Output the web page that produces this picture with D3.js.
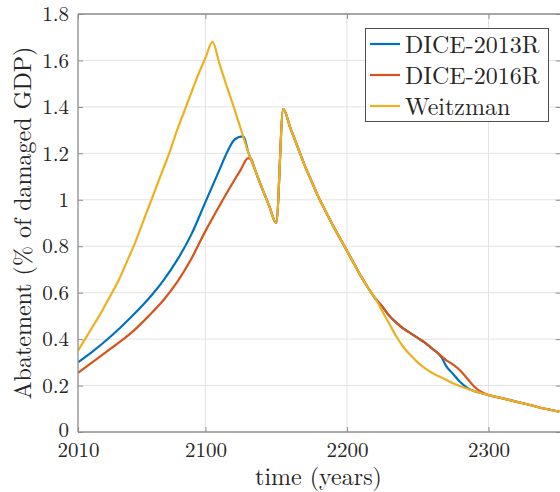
<!DOCTYPE html>
<html>
<head>
<meta charset="utf-8">
<script src="https://cdn.jsdelivr.net/npm/d3@7"></script>
<style>
  html, body { margin: 0; padding: 0; background: #fff; }
  svg { display: block; }
</style>
</head>
<body>
<div id="chart"></div>
<script>
// ---- data ----
const seriesNames = ["DICE-2013R", "DICE-2016R", "Weitzman"];
const seriesColors = ["#0072BD", "#D95319", "#EDB120"];

const yearsWeitzman = [2010,2015,2020,2025,2030,2035,2040,2045,2050,2055,2060,2065,2070,2075,2080,2085,2090,2095,2100,2105,
  2110,2115,2120,2125,2130,2135,2140,2145,2150,2155,2160,2165,2170,2175,2180,2185,2190,2195,2200,2205,2210,2215,2220,2225,
  2230,2235,2240,2245,2250,2255,2260,2265,2270,2275,2280,2285,2290,2295,2300,2310,2320,2330,2340,2350];
const weitzman = [0.35,0.40,0.45,0.50,0.555,0.61,0.67,0.74,0.81,0.89,0.97,1.05,1.13,1.21,1.30,1.38,1.46,1.54,1.61,1.68,
  1.585,1.49,1.40,1.305,1.21,1.13,1.05,0.975,0.90,1.39,1.31,1.23,1.15,1.08,1.01,0.95,0.89,0.835,0.78,0.725,0.67,0.62,0.575,0.52,
  0.465,0.41,0.365,0.33,0.30,0.275,0.255,0.24,0.225,0.21,0.197,0.186,0.176,0.167,0.159,0.145,0.13,0.115,0.10,0.088];

const yearsDice2016 = [2010,2020,2030,2040,2050,2060,2070,2080,2090,2100,2110,2120,2125,2130,2132,
  2135,2140,2145,2150,2155,2160,2165,2170,2175,2180,2185,2190,2195,2200,2205,2210,2215,2220,
  2225,2230,2235,2240,2245,2250,2255,2260,2265,2270,2275,2280,2285,2290,2295,2300,2310,2320,2330,2340,2350];
const dice2016 = [0.255,0.30,0.345,0.39,0.44,0.50,0.565,0.645,0.745,0.865,0.975,1.08,1.13,1.178,1.178,
  1.13,1.05,0.975,0.90,1.39,1.31,1.23,1.15,1.08,1.01,0.95,0.89,0.835,0.78,0.725,0.67,0.62,0.575,
  0.54,0.50,0.47,0.445,0.425,0.405,0.385,0.36,0.335,0.31,0.29,0.265,0.23,0.195,0.172,0.159,0.145,0.13,0.115,0.10,0.088];

const yearsDice2013 = [2010,2020,2030,2040,2050,2060,2070,2080,2090,2100,2110,2115,2120,2122,2125,2127,
  2130,2135,2140,2145,2150,2155,2160,2165,2170,2175,2180,2185,2190,2195,2200,2205,2210,2215,2220,
  2225,2230,2235,2240,2245,2250,2255,2260,2265,2267,2270,2275,2280,2285,2290,2295,2300,2310,2320,2330,2340,2350];
const dice2013 = [0.30,0.345,0.395,0.45,0.51,0.575,0.65,0.74,0.85,0.99,1.13,1.20,1.255,1.265,1.272,1.272,
  1.21,1.13,1.05,0.975,0.90,1.39,1.31,1.23,1.15,1.08,1.01,0.95,0.89,0.835,0.78,0.725,0.67,0.62,0.575,
  0.54,0.50,0.47,0.445,0.425,0.405,0.385,0.36,0.335,0.32,0.285,0.25,0.215,0.19,0.176,0.167,0.159,0.145,0.13,0.115,0.10,0.088];

const xTicks = [2010, 2100, 2200, 2300];
const yTicks = [0, 0.2, 0.4, 0.6, 0.8, 1, 1.2, 1.4, 1.6, 1.8];
const xLabel = "time (years)";
const yLabel = "Abatement (% of damaged GDP)";

// ---- layout ----
const FONT = '"Latin Modern Roman", "Liberation Serif", serif';
const W = 560, H = 492;
const L = 78, T = 14, B = 432, R = 560.7;

const svg = d3.select("#chart").append("svg").attr("width", W).attr("height", H)
  .attr("font-family", FONT);

const x = d3.scaleLinear().domain([2010, 2351]).range([L, R]);
const y = d3.scaleLinear().domain([0, 1.8]).range([B, T]);

// grid
const grid = svg.append("g");
grid.selectAll(".gx").data(xTicks.slice(1)).enter().append("line")
  .attr("x1", d => x(d)).attr("x2", d => x(d)).attr("y1", T).attr("y2", B)
  .attr("stroke", "#e3e3e3").attr("stroke-width", 1);
grid.selectAll(".gy").data(yTicks.slice(1)).enter().append("line")
  .attr("x1", L).attr("x2", R).attr("y1", d => y(d)).attr("y2", d => y(d))
  .attr("stroke", "#e3e3e3").attr("stroke-width", 1);

// lines
const datasets = [
  yearsDice2013.map((t, i) => [t, dice2013[i]]),
  yearsDice2016.map((t, i) => [t, dice2016[i]]),
  yearsWeitzman.map((t, i) => [t, weitzman[i]])
];
const line = d3.line().x(d => x(d[0])).y(d => y(d[1])).curve(d3.curveMonotoneX);
svg.append("clipPath").attr("id", "clip").append("rect")
  .attr("x", L).attr("y", T).attr("width", R - L).attr("height", B - T);
datasets.forEach((ds, i) => {
  svg.append("path").datum(ds)
    .attr("d", line)
    .attr("fill", "none")
    .attr("stroke", seriesColors[i])
    .attr("stroke-width", 2.2)
    .attr("stroke-linejoin", "round")
    .attr("clip-path", "url(#clip)");
});

// axes (inward ticks, MATLAB-style box)
const axisColor = "#8c8c8c";
const tickLen = 5;
const xAxisB = d3.axisBottom(x).tickValues(xTicks).tickSize(-tickLen).tickPadding(10).tickFormat(d3.format("d"));
const gxB = svg.append("g").attr("transform", `translate(0,${B})`).call(xAxisB);
const xAxisT = d3.axisTop(x).tickValues(xTicks).tickSize(-tickLen).tickFormat("");
const gxT = svg.append("g").attr("transform", `translate(0,${T})`).call(xAxisT);
const yAxisL = d3.axisLeft(y).tickValues(yTicks).tickSize(-tickLen).tickPadding(9).tickFormat(d3.format("~g"));
const gyL = svg.append("g").attr("transform", `translate(${L},0)`).call(yAxisL);
const yAxisR = d3.axisRight(y).tickValues(yTicks).tickSize(-tickLen).tickFormat("");
const gyR = svg.append("g").attr("transform", `translate(${R},0)`).call(yAxisR);

[gxB, gxT, gyL, gyR].forEach(g => {
  g.attr("font-family", FONT).attr("font-size", 21);
  g.selectAll(".domain").attr("stroke", axisColor).attr("stroke-width", 1.3);
  g.selectAll(".tick line").attr("stroke", axisColor);
  g.selectAll(".tick text").attr("fill", "#262626")
    .attr("font-family", FONT).style("font-family", FONT).style("font-size", "21px");
});
// nudge the y "0" label up slightly so it does not collide with "2010"
gyL.selectAll(".tick text").filter(d => d === 0).attr("dy", "0.2em");
gxB.selectAll(".domain").attr("d", `M${L},0H${R}`);
gxT.selectAll(".domain").attr("d", `M${L},0H${R}`);
gyL.selectAll(".domain").attr("d", `M0,${B}V${T}`);
gyR.selectAll(".domain").attr("d", `M0,${B}V${T}`);

// axis labels
svg.append("text").attr("x", (L + 559) / 2).attr("y", 485)
  .attr("text-anchor", "middle").attr("fill", "#262626")
  .style("font-family", FONT).style("font-size", "24px").text(xLabel);
svg.append("text")
  .attr("transform", `translate(31,${(T + B) / 2}) rotate(-90)`)
  .attr("text-anchor", "middle").attr("fill", "#262626")
  .style("font-family", FONT).style("font-size", "24px").text(yLabel);

// legend
const lg = svg.append("g");
lg.append("rect").attr("x", 365.5).attr("y", 28.5).attr("width", 183).attr("height", 93)
  .attr("fill", "#fff").attr("stroke", "#4d4d4d").attr("stroke-width", 1);
const rowY = [44, 75, 106];
seriesNames.forEach((name, i) => {
  lg.append("line").attr("x1", 370).attr("x2", 400).attr("y1", rowY[i]).attr("y2", rowY[i])
    .attr("stroke", seriesColors[i]).attr("stroke-width", 2.2);
  lg.append("text").attr("x", 405).attr("y", rowY[i] + 8.5).attr("fill", "#262626")
    .style("font-family", FONT).style("font-size", "24px").text(name);
});
</script>
</body>
</html>
